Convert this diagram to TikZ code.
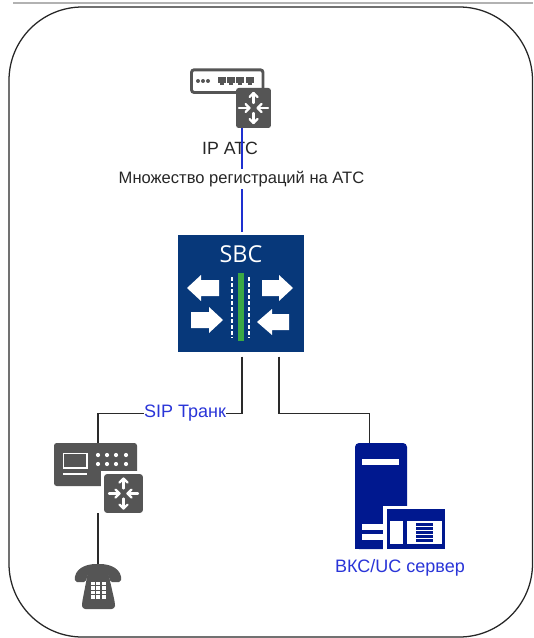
\documentclass[tikz,border=0pt]{standalone}
\usepackage{fontspec}
\setmainfont{Liberation Sans}
\newfontfamily\sbcfont{Open Sans}
\definecolor{icongray}{HTML}{555555}
\definecolor{navybox}{HTML}{07387A}
\definecolor{navysrv}{HTML}{00188F}
\definecolor{labelblue}{HTML}{2A35D8}
\definecolor{wireblue}{HTML}{1E30D0}
\definecolor{wiregray}{HTML}{2A2A2A}
\definecolor{sbcgreen}{HTML}{3BA845}
\tikzset{
  px/.style={x=0.75pt,y=-0.75pt},
  wire/.style={draw=wiregray,line width=1pt},
  bluewire/.style={draw=wireblue,line width=1.3pt},
  whitefill/.style={fill=white,draw=none},
  routerbox/.style={rectangle,rounded corners=2pt,fill=icongray,draw=none,inner sep=0pt},
  srvfill/.style={fill=navysrv,draw=none},
  blacklabel/.style={text=black!85,inner sep=0pt},
  bluelabel/.style={text=labelblue,font=\fontsize{13.5pt}{15pt}\selectfont,inner sep=0pt},
  rarrow/.style={draw=white,line width=1.6pt,line cap=round,line join=round,-}
}
\newcommand{\routerglyph}[2]{%
  \begin{scope}[shift={(#1,#2)}]
    \foreach \r in {90,270}{
      \begin{scope}[rotate=\r]
        \draw[rarrow] (5,0) -- (15,0);
        \draw[rarrow] (11,-4) -- (15,0) -- (11,4);
      \end{scope}
    }
    \foreach \r in {0,180}{
      \begin{scope}[rotate=\r]
        \draw[rarrow] (4,0) -- (14.5,0);
        \draw[rarrow] (8,-4) -- (4,0) -- (8,4);
      \end{scope}
    }
  \end{scope}}
\begin{document}
\begin{tikzpicture}[px]
\useasboundingbox (0,0) rectangle (533,638);
\fill[white] (0,0) rectangle (533,638);
% top rule and frame
\draw[draw=black!30,line width=0.9pt] (13,3) -- (533,3);
\draw[draw=black!85,line width=0.95pt,rounded corners=55pt] (9,7) rectangle (532.5,637);

% IP PBX icon
\draw[icongray,line width=2.2pt,rounded corners=2pt] (263,88) -- (263,69.8) -- (191.5,69.8) -- (191.5,92.5) -- (236,92.5);
\foreach \x in {198,203,208}{\fill[icongray] (\x,81) circle (2);}
\foreach \x in {222,231,240,250}{
  \fill[icongray] (\x-3.8,77) rectangle (\x+3.8,83);
  \fill[icongray] (\x-2.2,83) rectangle (\x+2.2,85.5);
}

% Label behind the wire
\node[blacklabel,font=\fontsize{13.3pt}{15pt}\selectfont] (ipats) at (230,148) {IP АТС};

\node[routerbox,minimum width=26.2pt,minimum height=30pt] (r1) at (253.5,108) {};
\routerglyph{253.5}{108}

% SBC
\node[rectangle,fill=navybox,draw=none,minimum width=94.9pt,minimum height=87.5pt,inner sep=0pt] (sbc) at (241,293.3) {};
\node[text=white,font=\sbcfont\fontsize{17.5pt}{19pt}\selectfont,inner sep=0pt] (sbclabel) at (241,254) {SBC};
\fill[sbcgreen] (238,273) rectangle (244,341);
\draw[white,line width=1pt,dash pattern=on 3pt off 1.5pt] (232,277) -- (232,338);
\draw[white,line width=1pt,dash pattern=on 3pt off 1.5pt] (249,277) -- (249,338);
\fill[white] (187,288) -- (201,275) -- (201,280) -- (219,280) -- (219,296) -- (201,296) -- (201,301) -- cycle;
\fill[white] (293,288) -- (279,275) -- (279,280) -- (262,280) -- (262,296) -- (279,296) -- (279,301) -- cycle;
\fill[white] (223,320) -- (209,307) -- (209,312) -- (191,312) -- (191,328) -- (209,328) -- (209,333) -- cycle;
\fill[white] (257,322) -- (272,309) -- (272,314) -- (289,314) -- (289,330) -- (272,330) -- (272,335) -- cycle;

% Gateway icon
\fill[icongray,rounded corners=2pt] (54,443) rectangle (137,486);
\fill[white] (100.5,470.5) rectangle (146,518);
\node[routerbox,minimum width=29pt,minimum height=29pt] (r2) at (123.5,493.5) {};
\routerglyph{123.5}{493.5}
\draw[white,line width=1.3pt] (63.5,453.5) rectangle (87,468);
\draw[white,line width=1.3pt] (63,474) -- (87,474);
\foreach \x in {98,107,116,126}{\foreach \y in {455,464}{\fill[white] (\x,\y) circle (2.1);}}

% Phone icon
\fill[icongray,rounded corners=2.5pt] (88,572) -- (108,572) -- (115,603) -- (115,609) -- (82,609) -- (82,603) -- cycle;
\fill[icongray,rounded corners=1.5pt] (75,582) .. controls (74,570) and (84,564) .. (98,564) .. controls (112,564) and (122,570) .. (121,582) -- (110,582) -- (108.5,574) -- (87.5,574) -- (86,582) -- cycle;
\foreach \x in {92.5,98,103.5}{\foreach \y in {583.5,588,592.5,597}{\fill[white] (\x-2,\y-1.8) rectangle (\x+2,\y+1.8);}}
\coordinate (phonetop) at (98,564);

% Server icon
\fill[srvfill,rounded corners=3pt] (355,443) rectangle (407,549);
\fill[white] (383,506) rectangle (446,550);
\fill[white] (362,459) rectangle (399,464.5);
\fill[srvfill] (355,500) rectangle (383,549);
\fill[white] (362,524) rectangle (383,529.5);
\fill[white] (362,534) rectangle (383,539.5);
\node[rectangle,fill=navysrv,draw=none,minimum width=43.5pt,minimum height=30pt,inner sep=0pt] (srv) at (416,529) {};
\fill[white] (390,521) rectangle (403,544);
\fill[white] (407,521) rectangle (442,544);
\foreach \y in {524.5,528.5,532.5,536.5,540.5}{\fill[navysrv] (416,\y-1.3) rectangle (433,\y+1.3);}
\coordinate (srvtop) at (369.5,443);

% Named anchors
\coordinate (gwtop) at (98,443);
\coordinate (gwbottom) at (98,513);
\coordinate (sbcout) at (242,351);
\coordinate (sbcright) at (279,351);
\coordinate (splitleft) at (98,413.3);
\coordinate (bluetop) at (242,128);
\coordinate (bluebottom) at (242,235);

% Connectors
\draw[bluewire,shorten >=2.2pt] (bluetop) -- (bluebottom);
\draw[wire,shorten <=4.2pt] (sbcout) |- (splitleft) -- (gwtop);
\draw[wire,shorten <=4.2pt] (sbcright) |- (srvtop |- splitleft) -- (srvtop);
\draw[wire] (gwbottom) -- (phonetop);

% Labels over the wires
\node[blacklabel,fill=white,minimum height=15pt,font=\fontsize{12.4pt}{14pt}\selectfont] (multi) at (241.5,179) {Множество регистраций на АТС};
\node[bluelabel,fill=white] (sip) at (185,413) {SIP Транк};
\node[bluelabel] (vks) at (400,568) {ВКС/UC сервер};
\end{tikzpicture}
\end{document}
